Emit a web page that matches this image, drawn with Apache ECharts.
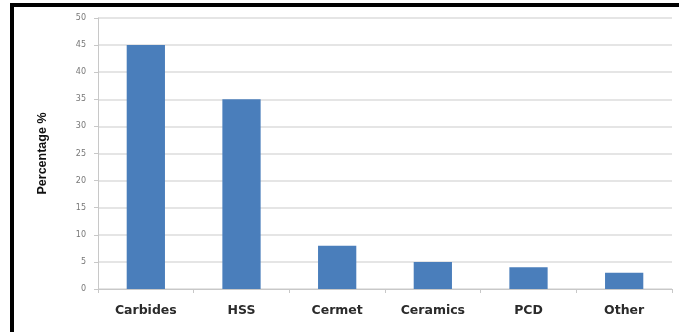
<!DOCTYPE html>
<html>
<head>
<meta charset="utf-8">
<script src="https://cdn.jsdelivr.net/npm/echarts@6/dist/echarts.min.js"></script>
<style>
  html, body { margin: 0; padding: 0; background: #fff; }
  #chart { width: 679px; height: 332px; }
</style>
</head>
<body>
<div id="chart"></div>
<script>
// Share of cutting tool materials
const categories = ['Carbides', 'HSS', 'Cermet', 'Ceramics', 'PCD', 'Other'];
const shares = [45, 35, 8, 5, 4, 3];
const yTicks = { min: 0, max: 50, step: 5 };
const yTitle = 'Percentage %';

const chart = echarts.init(document.getElementById('chart'), null, { renderer: 'canvas' });
chart.setOption({
  animation: false,
  backgroundColor: '#ffffff',
  graphic: [
    // frame around the chart (left and top edges)
    { type: 'rect', shape: { x: 10, y: 3, width: 4, height: 340 }, style: { fill: '#000' } },
    { type: 'rect', shape: { x: 10, y: 3, width: 700, height: 4 }, style: { fill: '#000' } }
  ],
  grid: { left: 98, right: 7, top: 18, bottom: 43, containLabel: false },
  xAxis: {
    type: 'category',
    data: categories,
    axisLine: { lineStyle: { color: '#c8c8c8', width: 1 } },
    axisTick: { show: true, alignWithLabel: false, length: 4, lineStyle: { color: '#c8c8c8' } },
    axisLabel: {
      margin: 15,
      color: '#2b2b2b',
      fontFamily: 'DejaVu Sans',
      fontWeight: 'bold',
      fontSize: 12.5
    }
  },
  yAxis: {
    type: 'value',
    min: yTicks.min,
    max: yTicks.max,
    interval: yTicks.step,
    name: yTitle,
    nameLocation: 'middle',
    nameRotate: 90,
    nameGap: 49,
    nameTextStyle: {
      color: '#111',
      fontFamily: 'Liberation Sans',
      fontWeight: 'bold',
      fontSize: 12.5
    },
    axisLine: { show: true, lineStyle: { color: '#c8c8c8' } },
    axisTick: { show: true, length: 4, lineStyle: { color: '#c8c8c8' } },
    axisLabel: { margin: 12, color: '#777', fontFamily: 'DejaVu Sans', fontSize: 8 },
    splitLine: { lineStyle: { color: '#dcdcdc', width: 1.5 } }
  },
  series: [{
    type: 'bar',
    data: shares,
    barWidth: '40%',
    itemStyle: { color: '#4a7ebb' }
  }]
});
</script>
</body>
</html>
